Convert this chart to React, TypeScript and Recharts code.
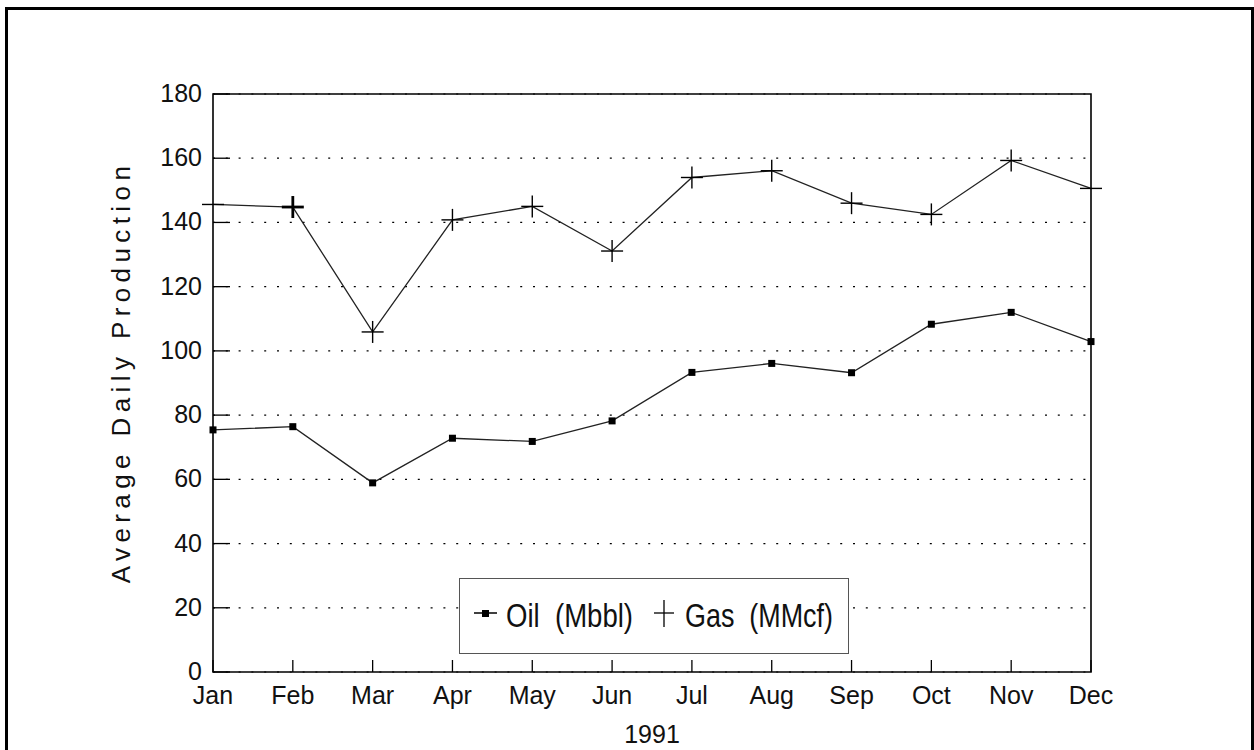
import React from 'react';
import { LineChart, Line, XAxis, YAxis, CartesianGrid, ReferenceArea, Legend } from 'recharts';

const months = ['Jan', 'Feb', 'Mar', 'Apr', 'May', 'Jun', 'Jul', 'Aug', 'Sep', 'Oct', 'Nov', 'Dec'];
const oilValues = [75.4, 76.4, 58.9, 72.8, 71.8, 78.2, 93.3, 96.1, 93.2, 108.3, 112.0, 102.9];
const gasValues = [145.6, 144.8, 105.9, 140.8, 145.0, 131.1, 154.0, 156.1, 146.0, 142.5, 159.3, 150.6];
const yTicks = [0, 20, 40, 60, 80, 100, 120, 140, 160, 180];
const xTitle = '1991';
const yTitle = 'Average Daily Production';
const oilName = 'Oil  (Mbbl)';
const gasName = 'Gas  (MMcf)';

const data = months.map((m, i) => ({ month: m, oil: oilValues[i], gas: gasValues[i] }));

const FONT = '"Liberation Sans", Arial, Helvetica, sans-serif';
const INK = '#111';

const YTick = (props: any) => {
  const { x, y, payload } = props;
  const axisX = x + 11;
  return (
    <g>
      <line x1={axisX} x2={axisX + 17} y1={y} y2={y} stroke="#000" strokeWidth={1.3} />
      <text x={x} y={y + 8} textAnchor="end" fontSize={25} fontFamily={FONT} fill={INK}>
        {payload.value}
      </text>
    </g>
  );
};

const XTick = (props: any) => {
  const { x, y, payload } = props;
  return (
    <g>
      <line x1={x} x2={x} y1={y} y2={y - 12} stroke="#000" strokeWidth={1.3} />
      <text x={x} y={y + 32} textAnchor="middle" fontSize={25} fontFamily={FONT} fill={INK}>
        {payload.value}
      </text>
    </g>
  );
};

const GasDot = (props: any) => {
  const { cx, cy, index } = props;
  if (cx == null || cy == null) return <g key={`g-${index}`} />;
  const edge = index === 0 || index === months.length - 1;
  const w = index === 1 ? 2.8 : 1.4;
  return (
    <g key={`g-${index}`}>
      <line x1={cx - 11} x2={cx + 11} y1={cy} y2={cy} stroke="#000" strokeWidth={w} />
      {!edge && <line x1={cx} x2={cx} y1={cy - 11} y2={cy + 11} stroke="#000" strokeWidth={w} />}
    </g>
  );
};

const OilDot = (props: any) => {
  const { cx, cy, index } = props;
  if (cx == null || cy == null) return <g key={`o-${index}`} />;
  return <rect key={`o-${index}`} x={cx - 3.5} y={cy - 3.5} width={7} height={7} fill="#000" />;
};

const YTitle = (props: any) => {
  const vb = props.viewBox || {};
  const cx = (vb.x ?? 0) + 121;
  const cy = (vb.y ?? 0) + vb.height / 2 - 11;
  return (
    <text
      x={cx}
      y={cy}
      transform={`rotate(-90, ${cx}, ${cy})`}
      textAnchor="middle"
      dominantBaseline="central"
      fontSize={26}
      fontFamily={FONT}
      letterSpacing={5.4}
      fill={INK}
    >
      {yTitle}
    </text>
  );
};

const XTitle = (props: any) => {
  const vb = props.viewBox || {};
  const cx = vb.x + vb.width / 2;
  return (
    <text x={cx} y={vb.y + 71} textAnchor="middle" fontSize={25} fontFamily={FONT} fill={INK}>
      {xTitle}
    </text>
  );
};

const LegendBox = () => (
  <div
    style={{
      width: 390,
      height: 76,
      boxSizing: 'border-box',
      border: '1.5px solid #555',
      background: '#fff',
    }}
  >
    <svg width={387} height={73} style={{ display: 'block', overflow: 'visible' }}>
      <line x1={14} x2={37} y1={34} y2={34} stroke="#000" strokeWidth={1.5} />
      <rect x={22} y={31} width={7} height={7} fill="#000" />
      <text x={46} y={48} fontSize={33} fontFamily={FONT} fill={INK} textLength={127} lengthAdjust="spacingAndGlyphs" style={{ whiteSpace: 'pre' }}>
        {oilName}
      </text>
      <line x1={194} x2={214} y1={34} y2={34} stroke="#000" strokeWidth={1.3} />
      <line x1={204} x2={204} y1={21} y2={48} stroke="#000" strokeWidth={1.3} />
      <text x={225} y={48} fontSize={33} fontFamily={FONT} fill={INK} textLength={148} lengthAdjust="spacingAndGlyphs" style={{ whiteSpace: 'pre' }}>
        {gasName}
      </text>
    </svg>
  </div>
);

export default function App() {
  return (
    <div style={{ position: 'absolute', left: 0, top: 0, width: 1254, height: 750, background: '#fff', overflow: 'hidden' }}>
      <div
        style={{
          position: 'absolute',
          left: 5,
          top: 7,
          width: 1249,
          height: 743,
          boxSizing: 'border-box',
          borderTop: '3.5px solid #000',
          borderLeft: '3.5px solid #000',
          borderRight: '3.5px solid #000',
        }}
      />
      <LineChart width={1254} height={750} data={data} margin={{ top: 94, right: 163, bottom: 0, left: 0 }}>
        <CartesianGrid vertical={false} stroke="#000" strokeWidth={1.2} strokeDasharray="2 10.8" />
        <XAxis
          dataKey="month"
          height={78}
          interval={0}
          tickSize={0}
          tickMargin={0}
          axisLine={false}
          tickLine={false}
          tick={<XTick />}
          label={(p: any) => <XTitle {...p} />}
        />
        <YAxis
          type="number"
          domain={[0, 180]}
          ticks={yTicks}
          width={213}
          interval={0}
          tickSize={0}
          tickMargin={11}
          axisLine={false}
          tickLine={false}
          tick={<YTick />}
          label={(p: any) => <YTitle {...p} />}
        />
        <ReferenceArea x1="Jan" x2="Dec" y1={0} y2={180} fill="none" stroke="#000" strokeWidth={1.6} ifOverflow="visible" />
        <Line
          dataKey="oil"
          name={oilName}
          stroke="#222"
          strokeWidth={1.3}
          dot={(p: any) => <OilDot {...p} />}
          activeDot={false}
          isAnimationActive={false}
        />
        <Line
          dataKey="gas"
          name={gasName}
          stroke="#222"
          strokeWidth={1.3}
          dot={(p: any) => <GasDot {...p} />}
          activeDot={false}
          isAnimationActive={false}
        />
        <Legend
          layout="horizontal"
          verticalAlign="middle"
          align="center"
          content={() => <LegendBox />}
          wrapperStyle={{ position: 'absolute', left: 459, top: 578, width: 390, height: 76 }}
        />
      </LineChart>
    </div>
  );
}
